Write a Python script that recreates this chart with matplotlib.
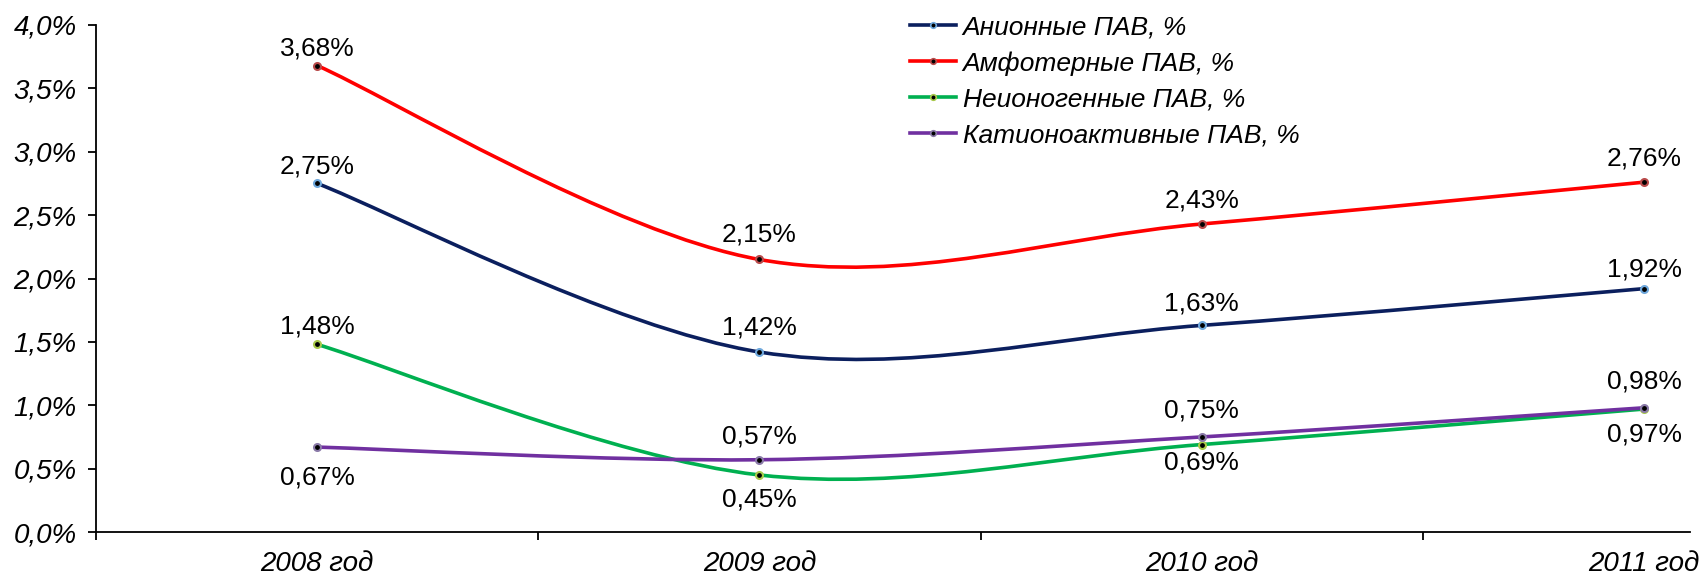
import matplotlib.pyplot as plt
import numpy as np
from matplotlib.path import Path
from matplotlib.patches import PathPatch
from matplotlib.lines import Line2D

plt.rcParams['font.family'] = ['Liberation Sans', 'DejaVu Sans']

years = ["2008 год", "2009 год", "2010 год", "2011 год"]
anion = [2.75, 1.42, 1.63, 1.92]
amfo = [3.68, 2.15, 2.43, 2.76]
neion = [1.48, 0.45, 0.69, 0.97]
kation = [0.67, 0.57, 0.75, 0.98]
names = ["Анионные ПАВ, %", "Амфотерные ПАВ, %", "Неионогенные ПАВ, %", "Катионоактивные ПАВ, %"]

colors = ["#0B1F5E", "#FF0000", "#00B050", "#7030A0"]
edges = ["#6FA8DC", "#B84A4A", "#A8C94A", "#8A7AA8"]
# label offsets in points (vertical), per series / point
offs = [[12, 18, 16, 14],
        [12, 18, 17, 17],
        [13, -18, -13, -18],
        [-22, 17, 19, 19]]


def smooth_path(xs, ys):
    # Catmull-Rom style bezier, like Excel "smoothed line"
    p = np.column_stack([xs, ys]).astype(float)
    n = len(p)
    verts = [p[0]]
    codes = [Path.MOVETO]
    for i in range(n - 1):
        p0 = p[i - 1] if i > 0 else p[i]
        p3 = p[i + 2] if i + 2 < n else p[i + 1]
        c1 = p[i] + (p[i + 1] - p0) / 6
        c2 = p[i + 1] - (p3 - p[i]) / 6
        verts += [c1, c2, p[i + 1]]
        codes += [Path.CURVE4] * 3
    return Path(verts, codes)


fig = plt.figure(figsize=(17.04, 5.74), dpi=100)
ax = fig.add_axes([96 / 1704, 42 / 574, (1690 - 96) / 1704, 507 / 574])

x = np.arange(len(years))
series = [anion, amfo, neion, kation]
for vals, c, ec, name, off in zip(series, colors, edges, names, offs):
    ax.add_patch(PathPatch(smooth_path(x, vals), facecolor='none', edgecolor=c, lw=2.6, zorder=3))
    ax.plot(x, vals, ls='none', marker='o', ms=5, mfc='black', mec=ec, mew=1.5, zorder=4)
    for xi, v, o in zip(x, vals, off):
        ax.annotate(f"{v:.2f}%".replace('.', ','), (xi, v), xytext=(0, o), textcoords='offset points',
                    ha='center', va='center', fontsize=19, color='black')

ax.set_xlim(-0.5, 3.104)
ax.set_ylim(0, 4.0)
ax.set_yticks(np.arange(0, 4.01, 0.5))
ax.set_yticklabels([f"{v:.1f}%".replace('.', ',') for v in np.arange(0, 4.01, 0.5)],
                   fontsize=20, style='italic')
ax.set_xticks(x)
ax.set_xticklabels(years, fontsize=20, style='italic')
ax.set_xticks([-0.5, 0.5, 1.5, 2.5], minor=True)
ax.tick_params(axis='x', which='major', length=0, pad=14)
ax.tick_params(axis='x', which='minor', length=6, width=1.3, direction='out')
ax.tick_params(axis='y', length=6, width=1.3, direction='out', pad=8)
for s in ['top', 'right']:
    ax.spines[s].set_visible(False)
for s in ['left', 'bottom']:
    ax.spines[s].set_linewidth(1.3)

handles = [Line2D([], [], color=c, lw=2.6, marker='o', ms=4, mfc='black', mec=ec, mew=1.2)
           for c, ec in zip(colors, edges)]
ax.legend(handles, names, loc='upper left', bbox_to_anchor=(0.504, 1.04), frameon=False,
          prop={'size': 19, 'style': 'italic'}, handlelength=1.75, handletextpad=0.25,
          labelspacing=0.45, borderaxespad=0)

plt.savefig("out.png", dpi=100)
